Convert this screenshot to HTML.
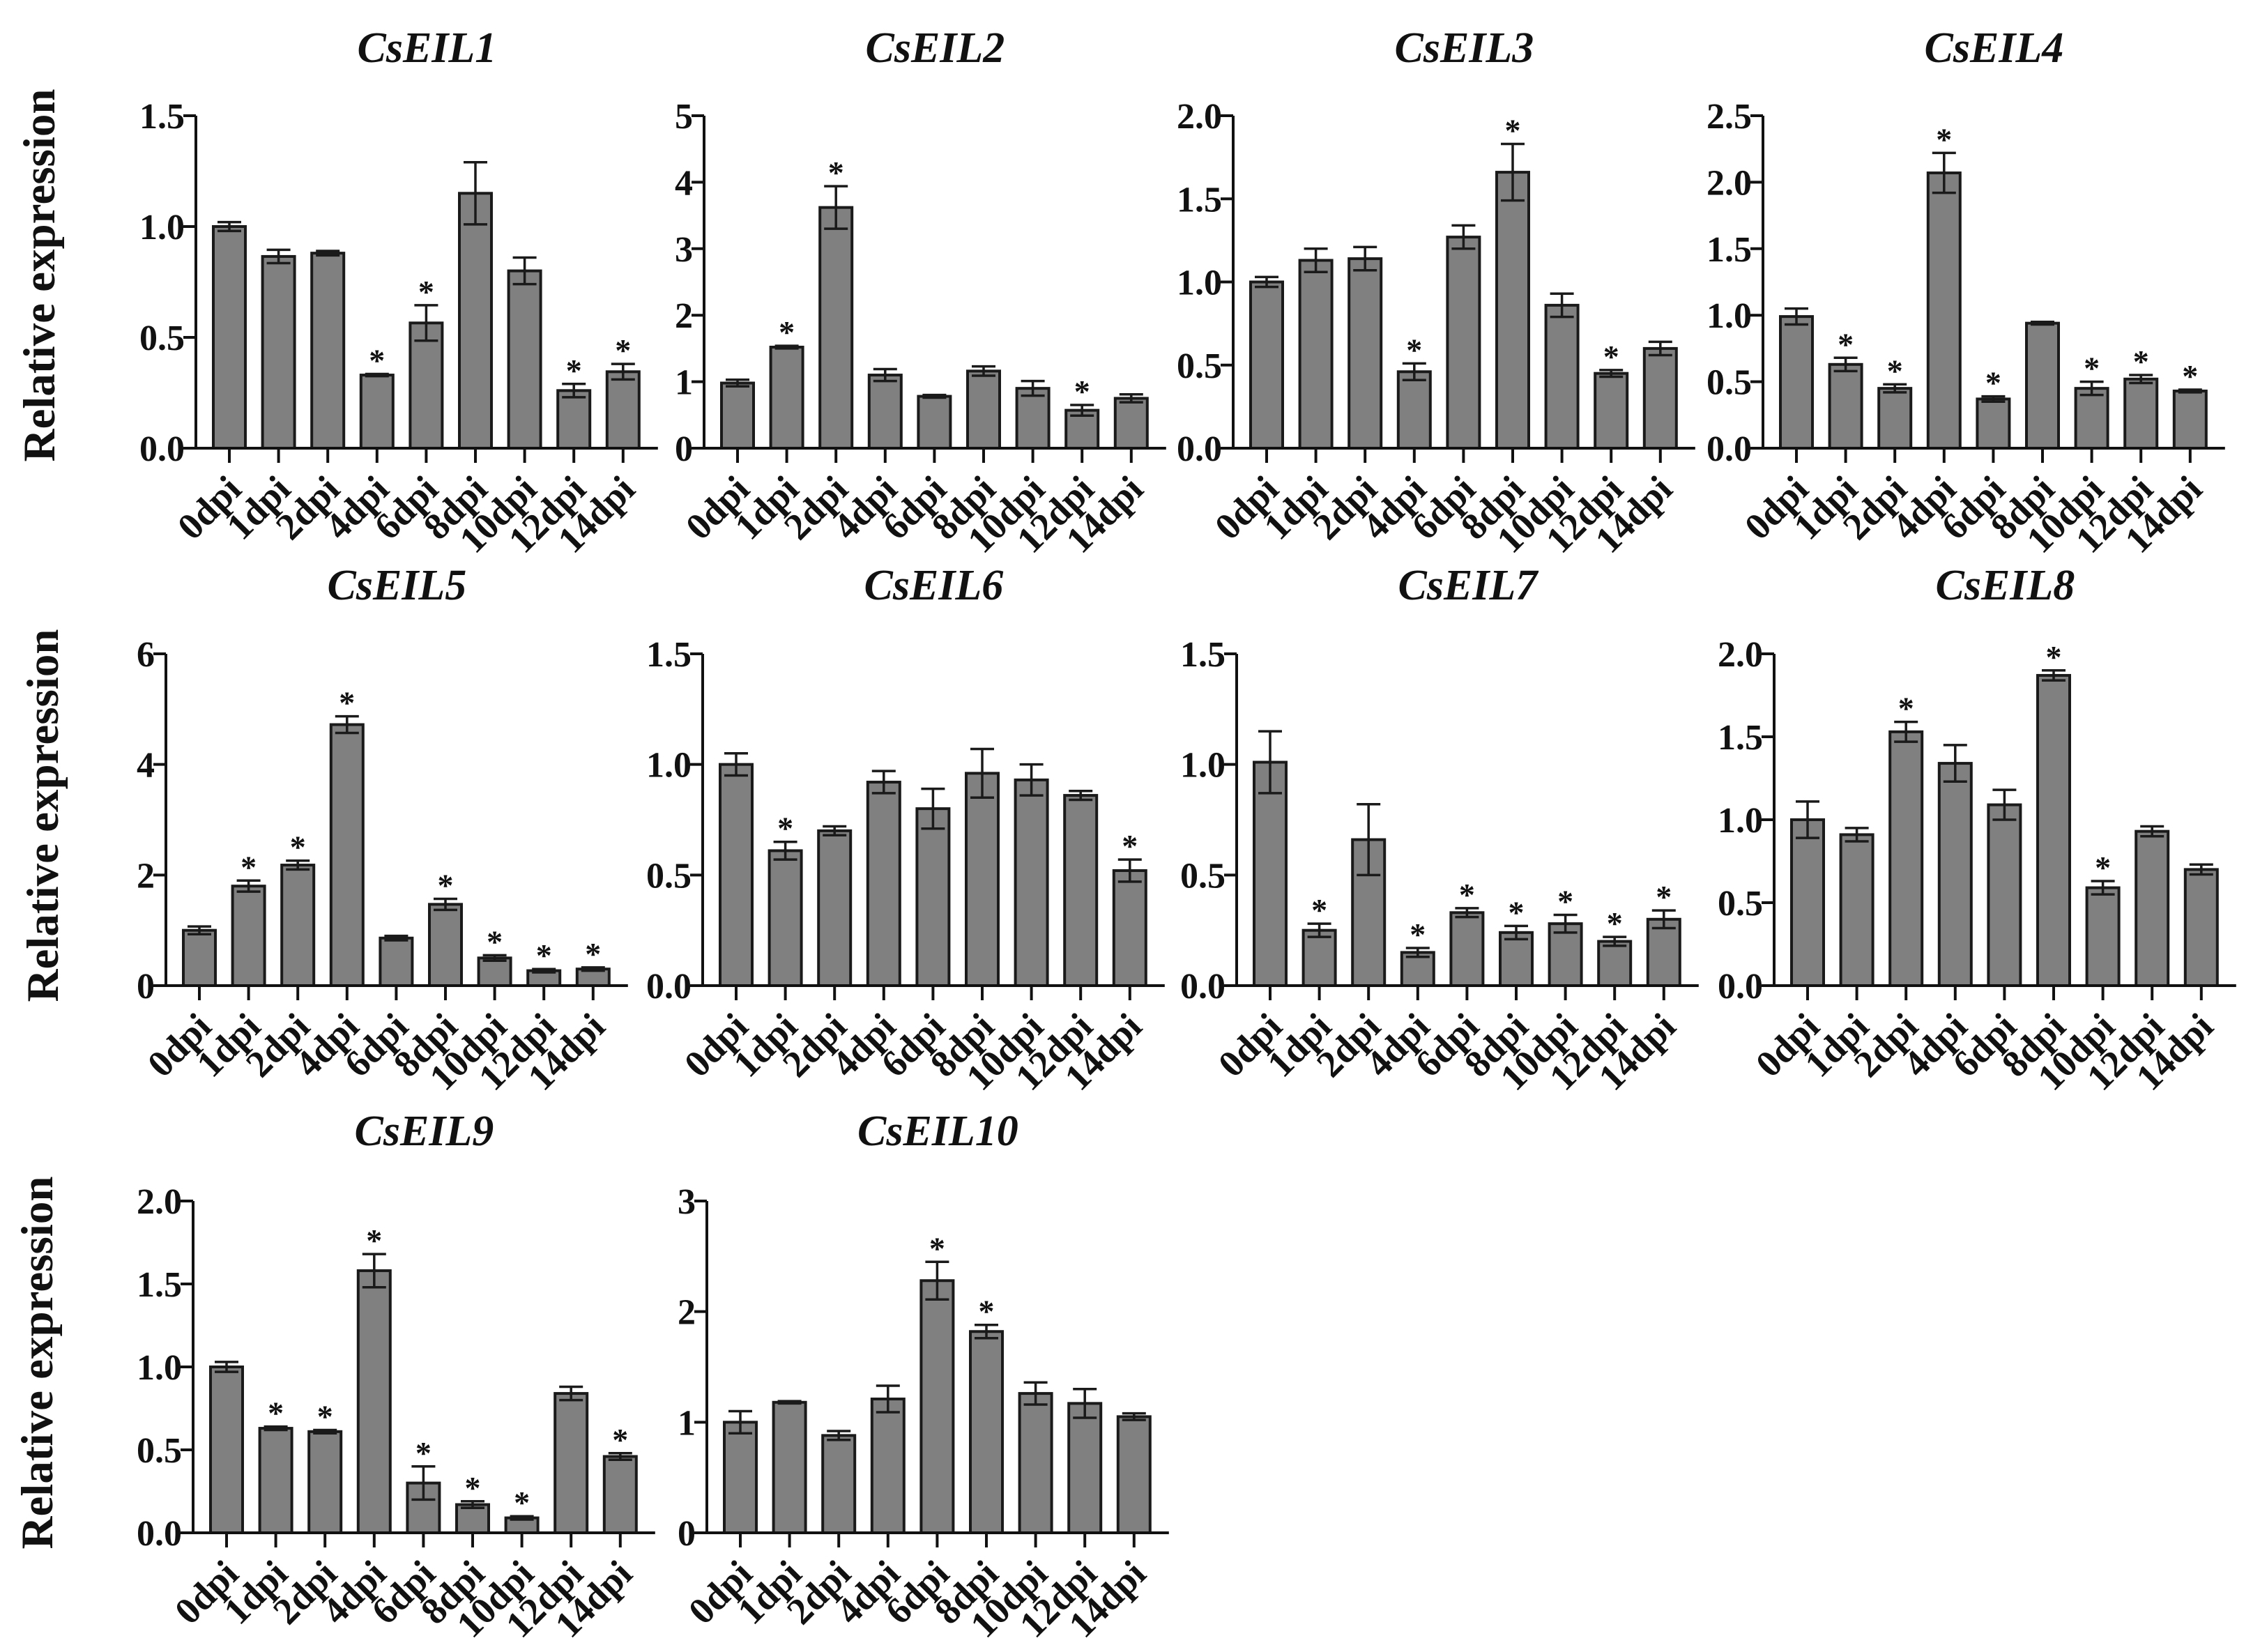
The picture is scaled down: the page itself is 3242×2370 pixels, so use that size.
<!DOCTYPE html>
<html><head><meta charset="utf-8"><style>
html,body{margin:0;padding:0;background:#fff}
svg{display:block}
text{font-family:"Liberation Serif",serif;font-weight:bold;fill:#111}
</style></head><body>
<svg id="fig" width="3242" height="2370" viewBox="0 0 3242 2370" xmlns="http://www.w3.org/2000/svg"></svg>
<script>
const categories = ["0dpi","1dpi","2dpi","4dpi","6dpi","8dpi","10dpi","12dpi","14dpi"];
const titles = ["CsEIL1","CsEIL2","CsEIL3","CsEIL4","CsEIL5","CsEIL6","CsEIL7","CsEIL8","CsEIL9","CsEIL10"];
const v1 = [1.0,0.865,0.88,0.33,0.565,1.15,0.80,0.26,0.345];
const e1 = [0.02,0.03,0.01,0.005,0.08,0.14,0.06,0.03,0.035];
const s1 = [0,0,0,1,1,0,0,1,1];
const v2 = [0.98,1.52,3.62,1.1,0.78,1.16,0.9,0.57,0.75];
const e2 = [0.05,0.02,0.32,0.09,0.02,0.07,0.11,0.08,0.06];
const s2 = [0,1,1,0,0,0,0,1,0];
const v3 = [1.0,1.13,1.14,0.46,1.27,1.66,0.86,0.45,0.60];
const e3 = [0.03,0.07,0.07,0.05,0.07,0.17,0.07,0.02,0.04];
const s3 = [0,0,0,1,0,1,0,1,0];
const v4 = [0.99,0.63,0.45,2.07,0.37,0.94,0.45,0.52,0.43];
const e4 = [0.06,0.05,0.03,0.15,0.02,0.01,0.05,0.03,0.01];
const s4 = [0,1,1,1,1,0,1,1,1];
const v5 = [1.0,1.8,2.18,4.72,0.86,1.47,0.5,0.27,0.3];
const e5 = [0.07,0.1,0.08,0.15,0.04,0.1,0.05,0.03,0.03];
const s5 = [0,1,1,1,0,1,1,1,1];
const v6 = [1.0,0.61,0.70,0.92,0.80,0.96,0.93,0.86,0.52];
const e6 = [0.05,0.04,0.02,0.05,0.09,0.11,0.07,0.02,0.05];
const s6 = [0,1,0,0,0,0,0,0,1];
const v7 = [1.01,0.25,0.66,0.15,0.33,0.24,0.28,0.20,0.30];
const e7 = [0.14,0.03,0.16,0.02,0.02,0.03,0.04,0.02,0.04];
const s7 = [0,1,0,1,1,1,1,1,1];
const v8 = [1.0,0.91,1.53,1.34,1.09,1.87,0.59,0.93,0.70];
const e8 = [0.11,0.04,0.06,0.11,0.09,0.03,0.04,0.03,0.03];
const s8 = [0,0,1,0,0,1,1,0,0];
const v9 = [1.0,0.63,0.61,1.58,0.30,0.17,0.09,0.84,0.46];
const e9 = [0.03,0.01,0.01,0.1,0.1,0.02,0.01,0.04,0.02];
const s9 = [0,1,1,1,1,1,1,0,1];
const v10 = [1.0,1.18,0.88,1.21,2.28,1.82,1.26,1.17,1.05];
const e10 = [0.1,0.01,0.04,0.12,0.17,0.06,0.1,0.13,0.03];
const s10 = [0,0,0,0,1,1,0,0,0];
const yTicks1 = [0,0.5,1.0,1.5];
const yTicks2 = [0,1,2,3,4,5];
const yTicks3 = [0,0.5,1.0,1.5,2.0];
const yTicks4 = [0,0.5,1.0,1.5,2.0,2.5];
const yTicks5 = [0,2,4,6];
const yTicks10 = [0,1,2,3];

const NS="http://www.w3.org/2000/svg";
const svg=document.getElementById('fig');
function mk(tag,attrs,parent){const e=document.createElementNS(NS,tag);for(const k in attrs)e.setAttribute(k,attrs[k]);(parent||svg).appendChild(e);return e;}

const panels=[
 {ax:281,top:166,zero:643,vals:v1,errs:e1,sig:s1,ticks:yTicks1,dec:1},
 {ax:1010,top:166,zero:643,vals:v2,errs:e2,sig:s2,ticks:yTicks2,dec:0},
 {ax:1769,top:166,zero:643,vals:v3,errs:e3,sig:s3,ticks:yTicks3,dec:1},
 {ax:2529,top:166,zero:643,vals:v4,errs:e4,sig:s4,ticks:yTicks4,dec:1},
 {ax:238,top:938,zero:1414,vals:v5,errs:e5,sig:s5,ticks:yTicks5,dec:0},
 {ax:1008,top:938,zero:1414,vals:v6,errs:e6,sig:s6,ticks:yTicks1,dec:1},
 {ax:1774,top:938,zero:1414,vals:v7,errs:e7,sig:s7,ticks:yTicks1,dec:1},
 {ax:2545,top:938,zero:1414,vals:v8,errs:e8,sig:s8,ticks:yTicks3,dec:1},
 {ax:277,top:1723,zero:2199,vals:v9,errs:e9,sig:s9,ticks:yTicks3,dec:1},
 {ax:1014,top:1723,zero:2199,vals:v10,errs:e10,sig:s10,ticks:yTicks10,dec:0}
];
const titleY=[89,89,89,89,860,860,860,860,1643,1643];
const ylabY=[{x:57,y:395},{x:62,y:1170},{x:54,y:1955}];

ylabY.forEach((p,i)=>{
 const t=mk('text',{x:p.x,y:p.y,'font-size':65,'text-anchor':'middle','dominant-baseline':'central',transform:`rotate(-90 ${p.x} ${p.y})`});
 
 
 t.textContent='Relative expression';
});

panels.forEach((p,pi)=>{
 const g=mk('g',{});
 
 
 const step=70.6, first=48, bw=46;
 const xEnd=p.ax+first+8*step+50;
 const ymax=p.ticks[p.ticks.length-1];
 const yS=v=>p.zero-(v/ymax)*(p.zero-p.top);
 const xS=i=>p.ax+first+i*step;
 const tt=mk('text',{x:(p.ax+xEnd)/2,y:titleY[pi],'font-size':62,'font-style':'italic','text-anchor':'middle'},g);
 
 
 tt.textContent=titles[pi];
 p.vals.forEach((v,i)=>{
  const cx=xS(i), y=yS(v);
  const r=mk('rect',{x:cx-bw/2,y:y,width:bw,height:p.zero-y,fill:'#808080',stroke:'#1a1a1a','stroke-width':4},g);
  
  
  const e=p.errs[i], yt=yS(v+e), yb=yS(Math.max(0,v-e));
  const eb=mk('path',{d:`M${cx},${yb}V${yt}M${cx-17},${yt}H${cx+17}M${cx-17},${yb}H${cx+17}`,stroke:'#1a1a1a','stroke-width':3.5,fill:'none'},g);
  
  
  if(p.sig[i]){
   const s=mk('text',{x:cx,y:yt-4,'font-size':46,'text-anchor':'middle'},g);
   
   
   s.textContent='*';
  }
  mk('line',{x1:cx,y1:p.zero,x2:cx,y2:p.zero+21,stroke:'#111','stroke-width':4},g);
  const lx=cx+20, ly=p.zero+62;
  const l=mk('text',{x:lx,y:ly,'font-size':54,'text-anchor':'end',transform:`rotate(-45 ${lx} ${ly})`},g);
  
  
  l.textContent=categories[i];
 });
 const ya=mk('line',{x1:p.ax,y1:p.top,x2:p.ax,y2:p.zero+2,stroke:'#111','stroke-width':4},g);
 
 
 const xa=mk('line',{x1:p.ax-18,y1:p.zero,x2:xEnd,y2:p.zero,stroke:'#111','stroke-width':4},g);
 
 
 p.ticks.forEach(t=>{
  const y=yS(t);
  mk('line',{x1:p.ax-18,y1:y,x2:p.ax,y2:y,stroke:'#111','stroke-width':4},g);
  const tl=mk('text',{x:p.ax-16,y:y+18,'font-size':52,'text-anchor':'end'},g);
  
  
  tl.textContent=t.toFixed(p.dec);
 });
});
</script>
</body></html>
